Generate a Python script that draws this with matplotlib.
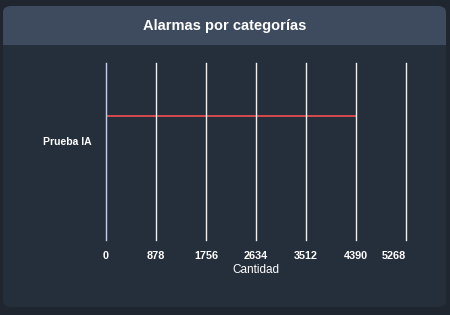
import matplotlib.pyplot as plt
from matplotlib.patches import FancyBboxPatch, Rectangle

# Data
categories = ['Prueba IA']
values = [4390]
tick_values = [0, 878, 1756, 2634, 3512, 4390, 5268]

plt.rcParams['font.family'] = ['Liberation Sans', 'DejaVu Sans']

fig = plt.figure(figsize=(4.5, 3.15), dpi=100)
fig.patch.set_facecolor('#1f2630')

W, H = 450.0, 315.0

# card + header (figure coords), kept behind the axes
card = FancyBboxPatch((3 / W, 8 / H), 443 / W, 301 / H,
                      boxstyle='round,pad=0,rounding_size=0.02',
                      transform=fig.transFigure, facecolor='#252e3b',
                      edgecolor='none', zorder=-3)
fig.patches.append(card)
header = FancyBboxPatch((3 / W, (315 - 45) / H), 443 / W, 39 / H,
                        boxstyle='round,pad=0,rounding_size=0.02',
                        transform=fig.transFigure, facecolor='#3e4b5e',
                        edgecolor='none', zorder=-2)
fig.patches.append(header)
fig.patches.append(Rectangle((3 / W, (315 - 45) / H), 443 / W, 15 / H,
                             transform=fig.transFigure, facecolor='#3e4b5e',
                             edgecolor='none', zorder=-2))
fig.text(225 / W, 1 - 26 / H, 'Alarmas por categorías', color='white',
         fontsize=10.5, fontweight='bold', ha='center', va='center')

ax = fig.add_axes([106 / W, 1 - 240 / H, 300 / W, 177 / H])
ax.set_facecolor('none')

# bar sits above the category label in the reference, under the grid
ax.barh([0.14], values, height=0.013, color='#cf4a4a', zorder=1)

ax.set_xlim(0, tick_values[-1])
ax.set_ylim(-0.56, 0.44)
ax.set_xticks(tick_values)
ax.set_xticklabels([str(v) for v in tick_values])
ax.set_yticks([0])
ax.set_yticklabels(categories)
for v in tick_values:
    ax.axvline(v, color='#c5d0e6' if v == 0 else '#f0f0f0', lw=1.0, zorder=2,
               clip_on=False)

for s in ax.spines.values():
    s.set_visible(False)
ax.tick_params(axis='x', length=0, pad=8, labelsize=7.8, labelcolor='white')
ax.tick_params(axis='y', length=0, pad=10, labelsize=7.5, labelcolor='white')
for lab in ax.get_xticklabels() + ax.get_yticklabels():
    lab.set_fontweight('bold')
# last label is pulled in toward the chart
ax.get_xticklabels()[-1].set_horizontalalignment('right')

ax.set_xlabel('Cantidad', color='white', fontsize=8.5, labelpad=2)

fig.savefig('out.png', dpi=100, facecolor=fig.get_facecolor())
